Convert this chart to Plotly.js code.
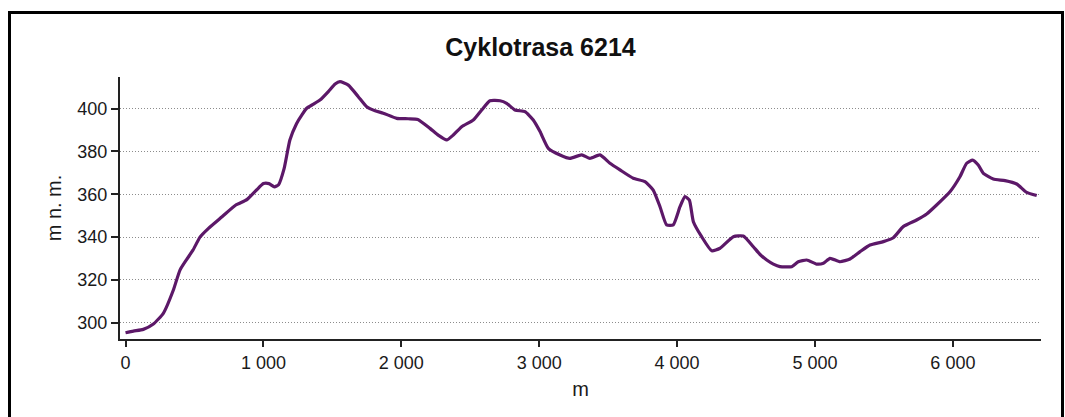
<!DOCTYPE html>
<html>
<head>
<meta charset="utf-8">
<script src="https://cdn.plot.ly/plotly-3.0.1.min.js"></script>
<style>
  html, body { margin: 0; padding: 0; background: #ffffff; }
  #wrap { position: relative; width: 1065px; height: 417px; overflow: hidden; }
  #chart { position: absolute; left: 0; top: 0; width: 1065px; height: 417px; }
  #frame { position: absolute; left: 8px; top: 11px; width: 1056px; height: 430px;
           border: 3px solid #000; box-sizing: border-box; pointer-events: none; }
</style>
</head>
<body>
<div id="wrap">
  <div id="chart"></div>
  <div id="frame"></div>
</div>
<script>
const chartTitle = "Cyklotrasa 6214";
const xTitle = "m";
const yTitle = "m n. m.";

const distance = [0, 57, 129, 202, 274, 347, 395, 444, 490, 540, 600, 700, 800, 880, 950, 1000, 1040, 1080, 1110, 1150, 1192, 1240, 1278, 1314, 1360, 1410, 1471, 1520, 1555, 1616, 1688, 1749, 1810, 1869, 1967, 2050, 2120, 2208, 2270, 2329, 2377, 2438, 2522, 2583, 2643, 2716, 2764, 2824, 2897, 2957, 3006, 3066, 3151, 3223, 3308, 3368, 3441, 3513, 3586, 3682, 3767, 3827, 3876, 3924, 3972, 4021, 4057, 4089, 4118, 4178, 4251, 4311, 4408, 4480, 4553, 4600, 4650, 4698, 4746, 4831, 4879, 4940, 5012, 5061, 5109, 5181, 5254, 5327, 5399, 5496, 5568, 5640, 5737, 5810, 5882, 5979, 6051, 6100, 6143, 6184, 6221, 6293, 6378, 6463, 6535, 6608];

const elevation = [295.3, 296.1, 296.9, 299.4, 304.4, 315.3, 324.6, 329.6, 334, 340, 344, 349.5, 355, 357.5, 362, 365, 365, 363.5, 364.5, 372, 385.4, 393, 397, 400.2, 402, 404, 408, 411.5, 412.6, 411, 405.6, 400.9, 399, 397.9, 395.5, 395.3, 395, 390.8, 387.5, 385.4, 387.7, 391.6, 394.7, 399.4, 403.7, 403.7, 402.5, 399.4, 398.6, 394.7, 389.3, 381.5, 378.4, 376.8, 378.4, 376.8, 378.4, 374.5, 371.4, 367.5, 365.9, 362, 354.2, 345.7, 345.7, 354.2, 358.9, 357.3, 347.2, 340.2, 333.6, 334.8, 340.2, 340.5, 335.5, 332, 329.3, 327.4, 326.2, 326.2, 328.5, 329.3, 327.4, 327.8, 330.1, 328.5, 329.8, 333.2, 336.3, 337.9, 339.7, 344.9, 348, 350.8, 355, 361.2, 368.2, 374.5, 376, 373.7, 369.8, 367.1, 366.4, 364.8, 360.9, 359.4];

const FONT = "Liberation Sans, Arial, sans-serif";

const trace = {
  x: distance,
  y: elevation,
  type: "scatter",
  mode: "lines",
  line: { color: "#5c1868", width: 3.2, shape: "spline", smoothing: 0.5 },
  hoverinfo: "x+y",
  showlegend: false
};

const layout = {
  width: 1065,
  height: 417,
  paper_bgcolor: "rgba(0,0,0,0)",
  plot_bgcolor: "#ffffff",
  separators: ", ",
  font: { family: FONT, size: 18, color: "#1a1a1a" },
  margin: { l: 120, r: 24, t: 77, b: 78, pad: 0 },
  title: {
    text: chartTitle,
    font: { family: FONT, size: 25, color: "#111111", weight: "bold" },
    xref: "container", yref: "container",
    x: 0.5075, xanchor: "center",
    y: 0.887, yanchor: "middle"
  },
  xaxis: {
    range: [-40, 6639],
    tick0: 0, dtick: 1000,
    separatethousands: true,
    showgrid: false,
    zeroline: false,
    showline: true, linecolor: "#222222", linewidth: 2,
    ticks: "outside", ticklen: 6, tickwidth: 2, tickcolor: "#222222",
    tickfont: { family: FONT, size: 18, color: "#1a1a1a" },
    title: { text: xTitle, font: { family: FONT, size: 20, color: "#1a1a1a" }, standoff: 10 },
    fixedrange: true
  },
  yaxis: {
    range: [292.4, 414.8],
    tick0: 300, dtick: 20,
    showgrid: true, gridcolor: "#8c8c8c", gridwidth: 1, griddash: "1px,2px",
    zeroline: false,
    showline: true, linecolor: "#222222", linewidth: 2,
    ticks: "outside", ticklen: 7, tickwidth: 2, tickcolor: "#222222",
    tickfont: { family: FONT, size: 18, color: "#1a1a1a" },
    title: { text: yTitle, font: { family: FONT, size: 20, color: "#1a1a1a" }, standoff: 10 },
    fixedrange: true
  }
};

Plotly.newPlot("chart", [trace], layout, { staticPlot: true, displayModeBar: false });
</script>
</body>
</html>
